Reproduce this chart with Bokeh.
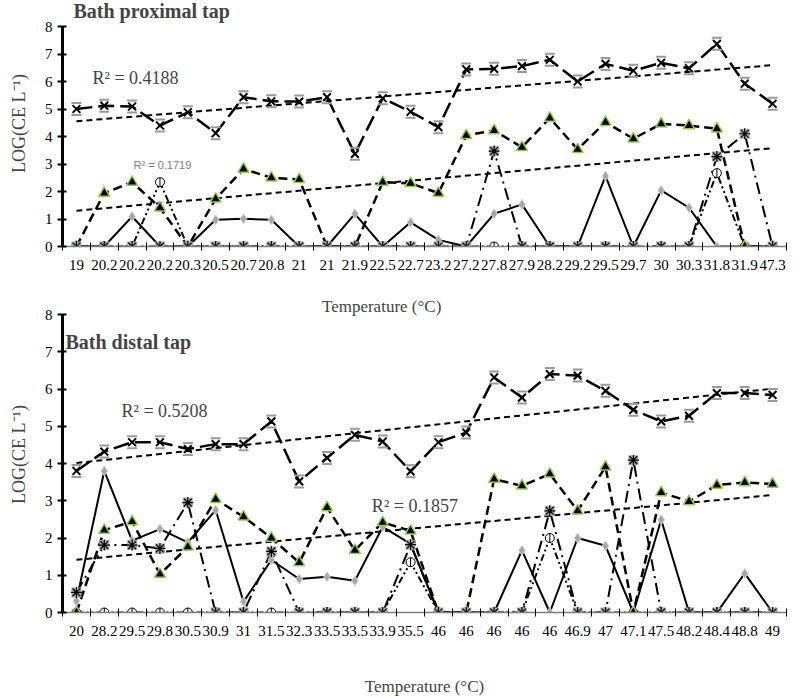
import numpy as np
from bokeh.plotting import figure
from bokeh.models import Range1d, FixedTicker, Label
from bokeh.layouts import column
from bokeh.embed import file_html
from bokeh.resources import INLINE

# ---------------- data: Bath proximal tap ----------------
top_labels = ["19", "20.2", "20.2", "20.2", "20.3", "20.5", "20.7", "20.8", "21", "21",
              "21.9", "22.5", "22.7", "23.2", "27.2", "27.8", "27.9", "28.2", "29.2", "29.5",
              "29.7", "30", "30.3", "31.8", "31.9", "47.3"]
top_a = [5.00, 5.12, 5.09, 4.40, 4.88, 4.12, 5.43, 5.28, 5.27, 5.43, 3.37, 5.39, 4.90,
         4.34, 6.44, 6.46, 6.56, 6.79, 6.00, 6.64, 6.39, 6.68, 6.48, 7.37, 5.92, 5.19]
top_b = [0, 1.94, 2.34, 1.41, 0, 1.73, 2.82, 2.50, 2.44, 0, 0, 2.34, 2.30,
         1.94, 4.04, 4.22, 3.61, 4.67, 3.53, 4.52, 3.92, 4.46, 4.40, 4.28, 0, 0]
top_c = [0, 0, 1.09, 0, 0, 0.97, 1.01, 0.97, 0, 0, 1.19, 0, 0.88,
         0.24, 0, 1.19, 1.53, 0, 0, 2.56, 0, 2.04, 1.41, 0, 0, 0]
top_d = [0, 0, 0, 0, 0, 0, 0, 0, 0, 0, 0, 0, 0,
         0, 0, 3.47, 0, 0, 0, 0, 0, 0, 0, 3.27, 4.10, 0]
top_e = [0, 0, 0, 2.34, 0, 0, 0, 0, 0, 0, 0, 0, 0,
         0, 0, 0, 0, 0, 0, 0, 0, 0, 0, 2.67, 0, 0]
top_title = "Bath proximal tap"
top_r2_a = "R² = 0.4188"
top_r2_b = "R² = 0.1719"

# ---------------- data: Bath distal tap ----------------
bot_labels = ["20", "28.2", "29.5", "29.8", "30.5", "30.9", "31", "31.5", "32.3", "33.5",
              "33.5", "33.9", "35.5", "46", "46", "46", "46", "46", "46.9", "47",
              "47.1", "47.5", "48.2", "48.4", "48.8", "49"]
bot_a = [3.80, 4.32, 4.57, 4.57, 4.39, 4.52, 4.52, 5.13, 3.52, 4.15, 4.77, 4.59, 3.79,
         4.57, 4.83, 6.31, 5.77, 6.40, 6.36, 5.95, 5.44, 5.13, 5.28, 5.89, 5.89, 5.84]
bot_b = [0, 2.21, 2.44, 1.03, 1.76, 3.04, 2.57, 2.00, 1.34, 2.82, 1.67, 2.42, 2.19,
         0, 0, 3.58, 3.40, 3.72, 2.73, 3.91, 0, 3.22, 2.98, 3.42, 3.49, 3.45]
bot_c = [0.31, 3.80, 1.93, 2.24, 1.88, 2.75, 0.29, 1.41, 0.90, 0.96, 0.85, 2.30, 1.84,
         0, 0, 0, 1.67, 0, 2.00, 1.79, 0, 2.49, 0, 0, 1.05, 0]
bot_d = [0.54, 1.81, 1.81, 1.72, 2.95, 0, 0, 1.64, 0, 0, 0, 0, 1.82,
         0, 0, 0, 0, 2.73, 0, 0, 4.09, 0, 0, 0, 0, 0]
bot_e = [0, 0, 0, 0, 0, 0, 0, 0, 0, 0, 0, 0, 1.35,
         0, 0, 0, 0, 2.00, 0, 0, 0, 0, 0, 0, 0, 0]
bot_title = "Bath distal tap"
bot_r2_a = "R² = 0.5208"
bot_r2_b = "R² = 0.1857"

x_title = "Temperature (°C)"
y_title = "LOG(CE L⁻¹)"

SERIF = "Liberation Serif"
GREEN = "#92d050"
Y_MAX = 8


def make_panel(labels, a, b, c, d, e, width, height, border, px_unit, head_px):
    n = len(labels)
    xs = list(range(n))
    y_top = Y_MAX + head_px / px_unit   # extra room above 8 for titles
    p = figure(width=width, height=height, output_backend="svg", toolbar_location=None,
               x_range=Range1d(-0.5, n - 0.5), y_range=Range1d(0, y_top),
               min_border_left=border[0], min_border_right=border[1],
               min_border_top=border[2], min_border_bottom=border[3])
    p.grid.visible = False
    p.outline_line_color = None
    p.background_fill_color = "white"

    xa = p.xaxis[0]
    xa.ticker = FixedTicker(ticks=xs, minor_ticks=[i - 0.5 for i in range(n + 1)])
    xa.major_label_overrides = {i: lab for i, lab in enumerate(labels)}
    xa.major_tick_in = 0
    xa.major_tick_out = 0
    xa.minor_tick_in = 4
    xa.minor_tick_out = 4
    xa.minor_tick_line_color = "black"
    xa.minor_tick_line_width = 1
    xa.axis_line_color = "#7f7f7f"
    xa.axis_line_width = 1.5
    xa.major_label_text_font = SERIF
    xa.major_label_text_font_size = "15px"
    xa.major_label_text_color = "black"
    xa.major_label_standoff = 9

    ya = p.yaxis[0]
    ya.bounds = (0, Y_MAX)
    ya.ticker = FixedTicker(ticks=list(range(0, Y_MAX + 1)))
    ya.axis_line_width = 3
    ya.axis_line_color = "black"
    ya.major_tick_in = 4
    ya.major_tick_out = 5
    ya.major_tick_line_width = 2
    ya.minor_tick_line_color = None
    ya.major_label_text_font = SERIF
    ya.major_label_text_font_size = "15px"
    ya.major_label_text_color = "black"
    ya.major_label_standoff = 5
    ya.axis_label = y_title
    ya.axis_label_text_font = SERIF
    ya.axis_label_text_font_size = "18px"
    ya.axis_label_text_font_style = "normal"
    ya.axis_label_standoff = 13

    # linear trendlines (least squares over the category index)
    ends = [0, n - 1]
    for ser in (a, b):
        coef = np.polyfit(xs, ser, 1)
        p.line(ends, list(np.polyval(coef, ends)), line_color="black", line_width=2,
               line_dash="6 4")

    # series lines
    p.line(xs, e, line_color="black", line_width=2, line_dash="7 3 2 3 2 3")
    p.line(xs, d, line_color="black", line_width=2, line_dash="12 5 2 5")
    p.line(xs, c, line_color="black", line_width=2)
    p.line(xs, b, line_color="black", line_width=2.5, line_dash="9 5")
    p.line(xs, a, line_color="black", line_width=2.5, line_dash="16 6")

    # markers
    p.scatter(xs, e, marker="circle", size=9, fill_color="white", line_color="black",
              line_width=1)
    p.scatter(xs, e, marker="dash", angle=np.pi / 2, size=9, line_color="black",
              line_width=1)
    p.scatter(xs, c, marker="diamond", size=10, fill_color="#a6a6a6",
              line_color="#d4d4d4", line_width=1)
    p.scatter(xs, b, marker="triangle", size=11, fill_color="black", line_color=GREEN,
              line_width=1.5)
    p.scatter(xs, d, marker="square", size=10, fill_color="#a8a8a8", line_color=None)
    p.scatter(xs, d, marker="asterisk", size=11, line_color="black", line_width=1.2)
    cap = 6.0 / px_unit
    p.rect(xs, [v + cap for v in a], width=10, height=2, width_units="screen",
           height_units="screen", fill_color="#9a9a9a", line_color=None)
    p.rect(xs, [v - cap for v in a], width=10, height=2, width_units="screen",
           height_units="screen", fill_color="#9a9a9a", line_color=None)
    p.scatter(xs, a, marker="x", size=11, line_color="black", line_width=2)
    return p


# top panel: canvas 0..296, frame x 62..786, value 8 at y=26, value 0 at y=246
TOP_PX = 27.5
top = make_panel(top_labels, top_a, top_b, top_c, top_d, top_e,
                 width=800, height=296, border=(62, 14, 0, 50), px_unit=TOP_PX, head_px=26)
top.add_layout(Label(x=-0.105, y=Y_MAX + 16 / TOP_PX, text=top_title, text_font=SERIF,
                     text_font_size="20px", text_font_style="bold",
                     text_baseline="middle", text_align="left"))
top.add_layout(Label(x=0.577, y=6.145, text=top_r2_a, text_font=SERIF,
                     text_font_size="18px", text_baseline="middle", text_align="left"))
top.add_layout(Label(x=2.05, y=2.98, text=top_r2_b, text_font="Liberation Sans",
                     text_font_size="11px", text_color="#808080",
                     text_baseline="middle", text_align="left"))

# bottom panel: canvas 296..699, frame x 62..797, value 8 at y=314, value 0 at y=612
BOT_PX = 37.25
bot = make_panel(bot_labels, bot_a, bot_b, bot_c, bot_d, bot_e,
                 width=800, height=403, border=(62, 3, 0, 87), px_unit=BOT_PX, head_px=18)
bot.xaxis[0].axis_label = x_title
bot.xaxis[0].axis_label_text_font = SERIF
bot.xaxis[0].axis_label_text_font_size = "17px"
bot.xaxis[0].axis_label_text_font_style = "normal"
bot.xaxis[0].axis_label_standoff = 38
# the upper panel's x-axis title sits in the gap just above the lower panel
bot.add_layout(Label(x=10.96, y=Y_MAX + 8 / BOT_PX, text=x_title, text_font=SERIF,
                     text_font_size="17px", text_baseline="middle", text_align="center"))
bot.add_layout(Label(x=-0.394, y=7.27, text=bot_title, text_font=SERIF,
                     text_font_size="20px", text_font_style="bold",
                     text_baseline="middle", text_align="left"))
bot.add_layout(Label(x=1.62, y=5.40, text=bot_r2_a, text_font=SERIF,
                     text_font_size="18px", text_baseline="middle", text_align="left"))
bot.add_layout(Label(x=10.61, y=2.87, text=bot_r2_b, text_font=SERIF,
                     text_font_size="18px", text_baseline="middle", text_align="left"))

layout = column(top, bot, spacing=0)
open("out.html", "w").write(file_html(layout, INLINE))
